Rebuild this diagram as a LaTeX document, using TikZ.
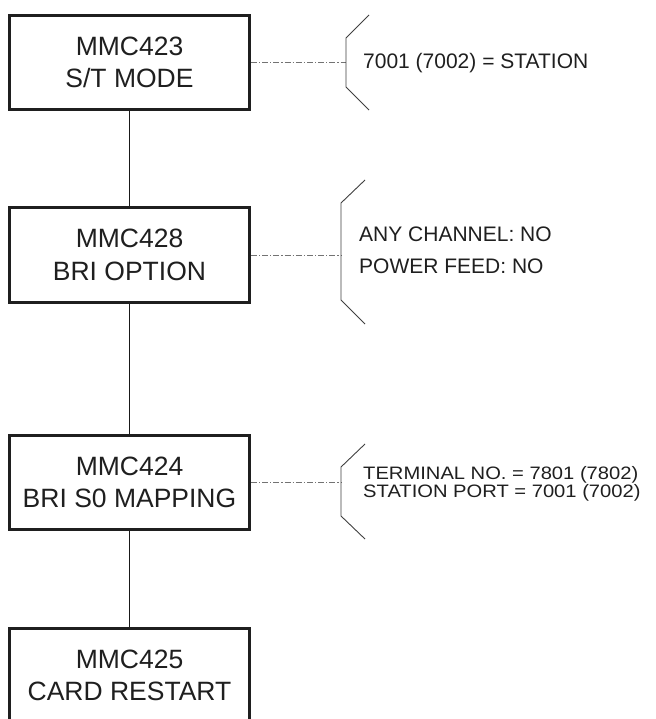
\documentclass[tikz,border=0pt]{standalone}
\usepackage{fontspec}
\setmainfont{Liberation Sans}
\begin{document}
\begin{tikzpicture}[x=1pt,y=-1pt,
  mmcbox/.style={draw=black!88,line width=3pt,minimum width=240pt,minimum height=94pt,
    align=center,text=black!88,inner sep=0pt,font=\fontsize{26.5}{32.7}\selectfont},
  link/.style={draw=black!90,line width=1pt},
  dashdot/.style={draw=black!55,line width=0.9pt,dash pattern=on 6pt off 2pt on 1.2pt off 2pt},
  brack/.style={draw=black!75,line width=0.9pt},
  note/.style={anchor=west,inner sep=0pt,align=left,text=black!88}]
\clip (0,0) rectangle (655,719);
\fill[white] (0,0) rectangle (655,719);
% boxes
\node[mmcbox] (b1) at (129.5,62.5) {MMC423\\S/T MODE};
\node[mmcbox] (b2) at (129.5,255) {MMC428\\BRI OPTION};
\node[mmcbox] (b3) at (129.5,482.5) {MMC424\\BRI S0 MAPPING};
\node[mmcbox] (b4) at (129.5,675.5) {MMC425\\CARD RESTART};
% vertical connectors
\draw[link] (b1.south) -- (b2.north);
\draw[link] (b2.south) -- (b3.north);
\draw[link] (b3.south) -- (b4.north);
% bracket coordinates
\coordinate (k1) at (346,62.5);
\coordinate (k2) at (341,255);
\coordinate (k3) at (341,482.5);
% dash-dot leaders
\draw[dashdot] (b1.east) -- (k1);
\draw[dashdot] (b2.east) -- (k2);
\draw[dashdot] (b3.east) -- (k3);
% brackets
\draw[brack] (369,15) -- (346,38) -- (346,87) -- (369,110);
\draw[brack] (365,180) -- (341,203) -- (341,300) -- (365,324);
\draw[brack] (365,444) -- (341,467) -- (341,516) -- (365,539);
% notes
\node[note,font=\fontsize{21}{25}\selectfont] (t1) at (363,63) {7001 (7002) = STATION};
\node[note,font=\fontsize{21}{32.5}\selectfont] (t2) at (359,250.5) {ANY CHANNEL: NO\\POWER FEED: NO};
\node[note,font=\fontsize{18}{18.5}\selectfont,xscale=1.12] (t3) at (363,484) {TERMINAL NO. = 7801 (7802)\\STATION PORT = 7001 (7002)};
\end{tikzpicture}
\end{document}
